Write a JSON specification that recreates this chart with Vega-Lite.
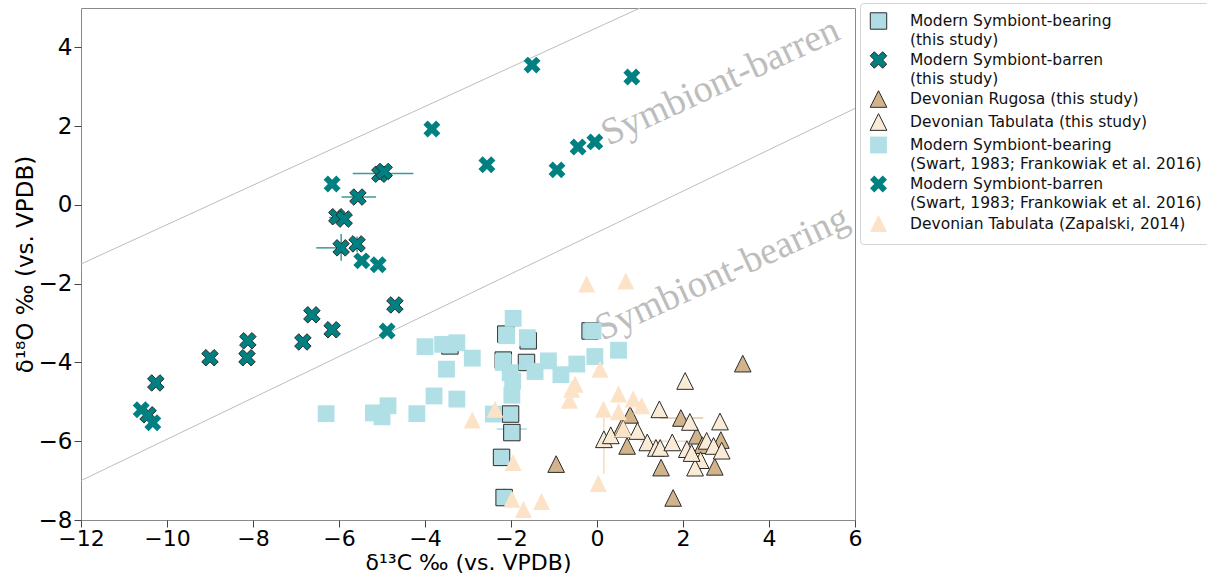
{
  "$schema": "https://vega.github.io/schema/vega-lite/v6.json",
  "width": 774,
  "height": 512,
  "autosize": {"type": "none"},
  "padding": {"left": 81, "top": 8, "right": 352, "bottom": 57},
  "background": "white",
  "config": {
    "view": {"stroke": "#8a8a8a", "strokeWidth": 1},
    "axis": {
      "grid": false,
      "domain": false,
      "ticks": true,
      "tickSize": 7,
      "tickColor": "#444",
      "labelFlush": false,
      "labelFont": "DejaVu Sans",
      "labelFontSize": 23,
      "labelColor": "#000",
      "titleFont": "DejaVu Sans",
      "titleFontSize": 23,
      "titleFontWeight": "normal",
      "titleColor": "#000"
    },
    "legend": {
      "labelFont": "DejaVu Sans",
      "labelFontSize": 15.5,
      "labelColor": "#111",
      "labelLimit": 400
    }
  },
  "datasets": {
    "points": [
      {"x": -3.42, "y": -3.58, "series": "Modern Symbiont-bearing|\u00a0(this study)"},
      {"x": -2.12, "y": -3.28, "series": "Modern Symbiont-bearing|\u00a0(this study)"},
      {"x": -1.6, "y": -3.45, "series": "Modern Symbiont-bearing|\u00a0(this study)"},
      {"x": -2.18, "y": -3.94, "series": "Modern Symbiont-bearing|\u00a0(this study)"},
      {"x": -1.64, "y": -4.0, "series": "Modern Symbiont-bearing|\u00a0(this study)"},
      {"x": -0.16, "y": -3.2, "series": "Modern Symbiont-bearing|\u00a0(this study)"},
      {"x": -2.01, "y": -5.31, "series": "Modern Symbiont-bearing|\u00a0(this study)"},
      {"x": -1.98, "y": -5.78, "series": "Modern Symbiont-bearing|\u00a0(this study)"},
      {"x": -2.22, "y": -6.41, "series": "Modern Symbiont-bearing|\u00a0(this study)"},
      {"x": -2.16, "y": -7.43, "series": "Modern Symbiont-bearing|\u00a0(this study)"},

      {"x": -5.05, "y": 0.78, "series": "Modern Symbiont-barren|\u00a0(this study)"},
      {"x": -4.95, "y": 0.85, "series": "Modern Symbiont-barren|\u00a0(this study)"},
      {"x": -5.56, "y": 0.2, "series": "Modern Symbiont-barren|\u00a0(this study)"},
      {"x": -6.05, "y": -0.3, "series": "Modern Symbiont-barren|\u00a0(this study)"},
      {"x": -5.88, "y": -0.36, "series": "Modern Symbiont-barren|\u00a0(this study)"},
      {"x": -5.95, "y": -1.09, "series": "Modern Symbiont-barren|\u00a0(this study)"},
      {"x": -5.58, "y": -0.99, "series": "Modern Symbiont-barren|\u00a0(this study)"},
      {"x": -4.7, "y": -2.54, "series": "Modern Symbiont-barren|\u00a0(this study)"},
      {"x": -6.63, "y": -2.79, "series": "Modern Symbiont-barren|\u00a0(this study)"},
      {"x": -6.16, "y": -3.17, "series": "Modern Symbiont-barren|\u00a0(this study)"},
      {"x": -6.84, "y": -3.48, "series": "Modern Symbiont-barren|\u00a0(this study)"},
      {"x": -8.12, "y": -3.45, "series": "Modern Symbiont-barren|\u00a0(this study)"},
      {"x": -8.14, "y": -3.88, "series": "Modern Symbiont-barren|\u00a0(this study)"},
      {"x": -9.0, "y": -3.88, "series": "Modern Symbiont-barren|\u00a0(this study)"},
      {"x": -10.26, "y": -4.52, "series": "Modern Symbiont-barren|\u00a0(this study)"},
      {"x": -10.44, "y": -5.33, "series": "Modern Symbiont-barren|\u00a0(this study)"},

      {"x": 3.39, "y": -4.03, "series": "Devonian Rugosa (this study)"},
      {"x": 0.77, "y": -5.33, "series": "Devonian Rugosa (this study)"},
      {"x": 1.95, "y": -5.41, "series": "Devonian Rugosa (this study)"},
      {"x": 0.7, "y": -6.12, "series": "Devonian Rugosa (this study)"},
      {"x": 1.49, "y": -6.67, "series": "Devonian Rugosa (this study)"},
      {"x": 2.32, "y": -5.86, "series": "Devonian Rugosa (this study)"},
      {"x": 2.74, "y": -6.65, "series": "Devonian Rugosa (this study)"},
      {"x": 1.77, "y": -7.44, "series": "Devonian Rugosa (this study)"},
      {"x": 2.88, "y": -5.97, "series": "Devonian Rugosa (this study)"},
      {"x": -0.95, "y": -6.58, "series": "Devonian Rugosa (this study)"},
      {"x": 0.57, "y": -5.65, "series": "Devonian Rugosa (this study)"},
      {"x": 2.45, "y": -6.1, "series": "Devonian Rugosa (this study)"},

      {"x": 2.05, "y": -4.47, "series": "Devonian Tabulata (this study)"},
      {"x": 1.45, "y": -5.19, "series": "Devonian Tabulata (this study)"},
      {"x": 2.16, "y": -5.51, "series": "Devonian Tabulata (this study)"},
      {"x": 2.86, "y": -5.5, "series": "Devonian Tabulata (this study)"},
      {"x": 0.16, "y": -5.95, "series": "Devonian Tabulata (this study)"},
      {"x": 0.32, "y": -5.85, "series": "Devonian Tabulata (this study)"},
      {"x": 0.61, "y": -5.69, "series": "Devonian Tabulata (this study)"},
      {"x": 0.94, "y": -5.74, "series": "Devonian Tabulata (this study)"},
      {"x": 1.17, "y": -6.03, "series": "Devonian Tabulata (this study)"},
      {"x": 1.37, "y": -6.17, "series": "Devonian Tabulata (this study)"},
      {"x": 1.47, "y": -6.17, "series": "Devonian Tabulata (this study)"},
      {"x": 1.75, "y": -6.03, "series": "Devonian Tabulata (this study)"},
      {"x": 2.09, "y": -6.2, "series": "Devonian Tabulata (this study)"},
      {"x": 2.55, "y": -5.99, "series": "Devonian Tabulata (this study)"},
      {"x": 2.71, "y": -6.12, "series": "Devonian Tabulata (this study)"},
      {"x": 2.9, "y": -6.24, "series": "Devonian Tabulata (this study)"},
      {"x": 2.41, "y": -6.48, "series": "Devonian Tabulata (this study)"},
      {"x": 2.28, "y": -6.67, "series": "Devonian Tabulata (this study)"},
      {"x": 2.2, "y": -6.3, "series": "Devonian Tabulata (this study)"},

      {"x": -6.3, "y": -5.3, "series": "Modern Symbiont-bearing|(Swart, 1983; Frankowiak et al. 2016)"},
      {"x": -5.2, "y": -5.28, "series": "Modern Symbiont-bearing|(Swart, 1983; Frankowiak et al. 2016)"},
      {"x": -4.86, "y": -5.1, "series": "Modern Symbiont-bearing|(Swart, 1983; Frankowiak et al. 2016)"},
      {"x": -5.0, "y": -5.38, "series": "Modern Symbiont-bearing|(Swart, 1983; Frankowiak et al. 2016)"},
      {"x": -4.19, "y": -5.3, "series": "Modern Symbiont-bearing|(Swart, 1983; Frankowiak et al. 2016)"},
      {"x": -3.79, "y": -4.85, "series": "Modern Symbiont-bearing|(Swart, 1983; Frankowiak et al. 2016)"},
      {"x": -4.0, "y": -3.6, "series": "Modern Symbiont-bearing|(Swart, 1983; Frankowiak et al. 2016)"},
      {"x": -3.59, "y": -3.54, "series": "Modern Symbiont-bearing|(Swart, 1983; Frankowiak et al. 2016)"},
      {"x": -3.26, "y": -3.5, "series": "Modern Symbiont-bearing|(Swart, 1983; Frankowiak et al. 2016)"},
      {"x": -3.5, "y": -4.17, "series": "Modern Symbiont-bearing|(Swart, 1983; Frankowiak et al. 2016)"},
      {"x": -3.26, "y": -4.93, "series": "Modern Symbiont-bearing|(Swart, 1983; Frankowiak et al. 2016)"},
      {"x": -2.9, "y": -3.89, "series": "Modern Symbiont-bearing|(Swart, 1983; Frankowiak et al. 2016)"},
      {"x": -1.95, "y": -2.88, "series": "Modern Symbiont-bearing|(Swart, 1983; Frankowiak et al. 2016)"},
      {"x": -2.1, "y": -3.32, "series": "Modern Symbiont-bearing|(Swart, 1983; Frankowiak et al. 2016)"},
      {"x": -1.62, "y": -3.37, "series": "Modern Symbiont-bearing|(Swart, 1983; Frankowiak et al. 2016)"},
      {"x": -2.18, "y": -4.0, "series": "Modern Symbiont-bearing|(Swart, 1983; Frankowiak et al. 2016)"},
      {"x": -2.02, "y": -4.26, "series": "Modern Symbiont-bearing|(Swart, 1983; Frankowiak et al. 2016)"},
      {"x": -1.96, "y": -4.47, "series": "Modern Symbiont-bearing|(Swart, 1983; Frankowiak et al. 2016)"},
      {"x": -1.98, "y": -4.83, "series": "Modern Symbiont-bearing|(Swart, 1983; Frankowiak et al. 2016)"},
      {"x": -1.44, "y": -4.23, "series": "Modern Symbiont-bearing|(Swart, 1983; Frankowiak et al. 2016)"},
      {"x": -1.13, "y": -3.96, "series": "Modern Symbiont-bearing|(Swart, 1983; Frankowiak et al. 2016)"},
      {"x": -0.84, "y": -4.31, "series": "Modern Symbiont-bearing|(Swart, 1983; Frankowiak et al. 2016)"},
      {"x": -0.47, "y": -4.04, "series": "Modern Symbiont-bearing|(Swart, 1983; Frankowiak et al. 2016)"},
      {"x": -0.05, "y": -3.85, "series": "Modern Symbiont-bearing|(Swart, 1983; Frankowiak et al. 2016)"},
      {"x": 0.5, "y": -3.69, "series": "Modern Symbiont-bearing|(Swart, 1983; Frankowiak et al. 2016)"},
      {"x": -0.09, "y": -3.2, "series": "Modern Symbiont-bearing|(Swart, 1983; Frankowiak et al. 2016)"},
      {"x": -2.41, "y": -5.31, "series": "Modern Symbiont-bearing|(Swart, 1983; Frankowiak et al. 2016)"},

      {"x": -3.84, "y": 1.93, "series": "Modern Symbiont-barren|(Swart, 1983; Frankowiak et al. 2016)"},
      {"x": -6.16, "y": 0.53, "series": "Modern Symbiont-barren|(Swart, 1983; Frankowiak et al. 2016)"},
      {"x": -1.51, "y": 3.55, "series": "Modern Symbiont-barren|(Swart, 1983; Frankowiak et al. 2016)"},
      {"x": 0.81, "y": 3.25, "series": "Modern Symbiont-barren|(Swart, 1983; Frankowiak et al. 2016)"},
      {"x": -2.56, "y": 1.02, "series": "Modern Symbiont-barren|(Swart, 1983; Frankowiak et al. 2016)"},
      {"x": -0.93, "y": 0.89, "series": "Modern Symbiont-barren|(Swart, 1983; Frankowiak et al. 2016)"},
      {"x": -0.44, "y": 1.47, "series": "Modern Symbiont-barren|(Swart, 1983; Frankowiak et al. 2016)"},
      {"x": -0.05, "y": 1.6, "series": "Modern Symbiont-barren|(Swart, 1983; Frankowiak et al. 2016)"},
      {"x": -5.47, "y": -1.42, "series": "Modern Symbiont-barren|(Swart, 1983; Frankowiak et al. 2016)"},
      {"x": -5.09, "y": -1.52, "series": "Modern Symbiont-barren|(Swart, 1983; Frankowiak et al. 2016)"},
      {"x": -4.88, "y": -3.2, "series": "Modern Symbiont-barren|(Swart, 1983; Frankowiak et al. 2016)"},
      {"x": -10.6, "y": -5.2, "series": "Modern Symbiont-barren|(Swart, 1983; Frankowiak et al. 2016)"},
      {"x": -10.33, "y": -5.53, "series": "Modern Symbiont-barren|(Swart, 1983; Frankowiak et al. 2016)"},

      {"x": -0.24, "y": -2.01, "series": "Devonian Tabulata (Zapalski, 2014)"},
      {"x": 0.67, "y": -1.93, "series": "Devonian Tabulata (Zapalski, 2014)"},
      {"x": 0.07, "y": -4.17, "series": "Devonian Tabulata (Zapalski, 2014)"},
      {"x": -0.51, "y": -4.55, "series": "Devonian Tabulata (Zapalski, 2014)"},
      {"x": -0.59, "y": -4.68, "series": "Devonian Tabulata (Zapalski, 2014)"},
      {"x": -0.64, "y": -4.96, "series": "Devonian Tabulata (Zapalski, 2014)"},
      {"x": 0.5, "y": -4.8, "series": "Devonian Tabulata (Zapalski, 2014)"},
      {"x": 0.84, "y": -4.93, "series": "Devonian Tabulata (Zapalski, 2014)"},
      {"x": 1.04, "y": -5.1, "series": "Devonian Tabulata (Zapalski, 2014)"},
      {"x": 0.15, "y": -5.19, "series": "Devonian Tabulata (Zapalski, 2014)"},
      {"x": 0.5, "y": -5.25, "series": "Devonian Tabulata (Zapalski, 2014)"},
      {"x": 0.61, "y": -5.69, "series": "Devonian Tabulata (Zapalski, 2014)"},
      {"x": -2.37, "y": -5.19, "series": "Devonian Tabulata (Zapalski, 2014)"},
      {"x": -2.9, "y": -5.46, "series": "Devonian Tabulata (Zapalski, 2014)"},
      {"x": -1.95, "y": -6.54, "series": "Devonian Tabulata (Zapalski, 2014)"},
      {"x": 0.03, "y": -7.07, "series": "Devonian Tabulata (Zapalski, 2014)"},
      {"x": -1.98, "y": -7.47, "series": "Devonian Tabulata (Zapalski, 2014)"},
      {"x": -1.71, "y": -7.73, "series": "Devonian Tabulata (Zapalski, 2014)"},
      {"x": -1.29, "y": -7.53, "series": "Devonian Tabulata (Zapalski, 2014)"}
    ],
    "hbars": [
      {"x": -5.68, "x2": -4.27, "y": 0.8, "group": "barren"},
      {"x": -5.94, "x2": -5.14, "y": 0.2, "group": "barren"},
      {"x": -6.53, "x2": -5.95, "y": -1.09, "group": "barren"},
      {"x": -6.23, "x2": -5.9, "y": -0.32, "group": "barren"},
      {"x": 1.47, "x2": 2.47, "y": -5.41, "group": "rugosa"},
      {"x": 1.0, "x2": 2.2, "y": -6.0, "group": "tabulata"},
      {"x": -2.33, "x2": -1.63, "y": -5.69, "group": "bearing"}
    ],
    "vbars": [
      {"x": -5.95, "y": -0.74, "y2": -1.42, "group": "barren"},
      {"x": -5.0, "y": 0.6, "y2": 1.0, "group": "barren"},
      {"x": -5.58, "y": -0.8, "y2": -1.2, "group": "barren"},
      {"x": 0.16, "y": -5.4, "y2": -6.83, "group": "tabulata"},
      {"x": -2.16, "y": -7.2, "y2": -7.6, "group": "bearing"}
    ],
    "guides": [
      {"x": -12, "y": -1.5, "line": "upper"},
      {"x": 1, "y": 5, "line": "upper"},
      {"x": -12, "y": -7, "line": "lower"},
      {"x": 6, "y": 2.45, "line": "lower"}
    ],
    "labels": [
      {"x": 2.98, "y": 2.86, "text": "Symbiont-barren"},
      {"x": 3.02, "y": -2.0, "text": "Symbiont-bearing"}
    ]
  },
  "layer": [
    {
      "mark": {"type": "rule", "color": "#9a9a9a", "strokeWidth": 1},
      "encoding": {
        "x": {"datum": 0, "type": "quantitative", "scale": {"domain": [-12, 6], "nice": false, "zero": false}}
      }
    },
    {
      "mark": {"type": "rule", "color": "#9a9a9a", "strokeWidth": 1},
      "encoding": {
        "y": {"datum": 0, "type": "quantitative", "scale": {"domain": [-8, 5], "nice": false, "zero": false}}
      }
    },
    {
      "data": {"name": "guides"},
      "mark": {"type": "line", "color": "#bdbdbd", "strokeWidth": 1, "clip": true},
      "encoding": {
        "x": {"field": "x", "type": "quantitative", "scale": {"domain": [-12, 6], "nice": false, "zero": false}},
        "y": {"field": "y", "type": "quantitative", "scale": {"domain": [-8, 5], "nice": false, "zero": false}},
        "detail": {"field": "line"}
      }
    },
    {
      "data": {"name": "labels"},
      "mark": {"type": "text", "font": "Liberation Serif", "fontSize": 38, "color": "#bdbdbd", "angle": -24.7, "align": "center", "baseline": "alphabetic", "clip": true},
      "encoding": {
        "x": {"field": "x", "type": "quantitative"},
        "y": {"field": "y", "type": "quantitative"},
        "text": {"field": "text"}
      }
    },
    {
      "data": {"name": "hbars"},
      "mark": {"type": "rule", "strokeWidth": 1.5},
      "encoding": {
        "x": {"field": "x", "type": "quantitative"},
        "x2": {"field": "x2"},
        "y": {"field": "y", "type": "quantitative"},
        "color": {"field": "group", "type": "nominal", "legend": null,
          "scale": {"domain": ["barren", "bearing", "rugosa", "tabulata"], "range": ["#3a9a9a", "#a8dbe2", "#e0c8a6", "#f6dcc0"]}}
      }
    },
    {
      "data": {"name": "vbars"},
      "mark": {"type": "rule", "strokeWidth": 1.5},
      "encoding": {
        "x": {"field": "x", "type": "quantitative"},
        "y": {"field": "y", "type": "quantitative"},
        "y2": {"field": "y2"},
        "color": {"field": "group", "type": "nominal", "legend": null}
      }
    },
    {
      "data": {"name": "points"},
      "mark": {"type": "point", "filled": true, "opacity": 1, "strokeWidth": 1},
      "encoding": {
        "x": {"field": "x", "type": "quantitative", "title": "δ¹³C ‰ (vs. VPDB)",
          "scale": {"domain": [-12, 6], "nice": false, "zero": false},
          "axis": {"values": [-12, -10, -8, -6, -4, -2, 0, 2, 4, 6], "labelPadding": 1, "titlePadding": 3, "labelFlush": false, "labelFontSize": 22, "titleFontSize": 22,
            "labelExpr": "replace(format(datum.value, 'd'), '-', '−')"}},
        "y": {"field": "y", "type": "quantitative", "title": "δ¹⁸O ‰ (vs. VPDB)",
          "scale": {"domain": [-8, 5], "nice": false, "zero": false},
          "axis": {"values": [-8, -6, -4, -2, 0, 2, 4], "labelPadding": 2, "titlePadding": 1, "labelFlush": false,
            "labelExpr": "replace(format(datum.value, 'd'), '-', '−')"}},
        "fill": {"field": "series", "type": "nominal", "title": null,
          "scale": {
            "domain": ["Modern Symbiont-bearing|\u00a0(this study)", "Modern Symbiont-barren|\u00a0(this study)", "Devonian Rugosa (this study)", "Devonian Tabulata (this study)", "Modern Symbiont-bearing|(Swart, 1983; Frankowiak et al. 2016)", "Modern Symbiont-barren|(Swart, 1983; Frankowiak et al. 2016)", "Devonian Tabulata (Zapalski, 2014)"],
            "range": ["#b0dde3", "#008080", "#d2b48c", "#faebd7", "#b0e0e6", "#008080", "#fce3c8"]},
          "legend": {"orient": "none", "legendX": 779, "legendY": -5, "labelExpr": "split(datum.label, '|')",
            "padding": 9, "strokeColor": "#d4d4d4", "fillColor": "white", "cornerRadius": 4,
            "rowPadding": 1, "labelOffset": 22, "symbolStrokeWidth": 1, "symbolOpacity": 1, "labelFontSize": 15.5, "labelLimit": 400,
            "encode": {"labels": {"update": {"lineHeight": {"value": 18.5}}}}}},
        "shape": {"field": "series", "type": "nominal", "title": null,
          "scale": {
            "domain": ["Modern Symbiont-bearing|\u00a0(this study)", "Modern Symbiont-barren|\u00a0(this study)", "Devonian Rugosa (this study)", "Devonian Tabulata (this study)", "Modern Symbiont-bearing|(Swart, 1983; Frankowiak et al. 2016)", "Modern Symbiont-barren|(Swart, 1983; Frankowiak et al. 2016)", "Devonian Tabulata (Zapalski, 2014)"],
            "range": ["square", "M0,0.5L0.5,1L1,0.5L0.5,0L1,-0.5L0.5,-1L0,-0.5L-0.5,-1L-1,-0.5L-0.5,0L-1,0.5L-0.5,1Z", "M0,-1L1,1L-1,1Z", "M0,-1L1,1L-1,1Z", "square", "M0,0.5L0.5,1L1,0.5L0.5,0L1,-0.5L0.5,-1L0,-0.5L-0.5,-1L-1,-0.5L-0.5,0L-1,0.5L-0.5,1Z", "M0,-1L1,1L-1,1Z"]},
          "legend": {"orient": "none", "legendX": 779, "legendY": -5, "labelExpr": "split(datum.label, '|')",
            "padding": 9, "strokeColor": "#d4d4d4", "fillColor": "white", "cornerRadius": 4,
            "rowPadding": 1, "labelOffset": 22, "symbolStrokeWidth": 1, "symbolOpacity": 1, "labelFontSize": 15.5, "labelLimit": 400,
            "encode": {"labels": {"update": {"lineHeight": {"value": 18.5}}}}}},
        "stroke": {"field": "series", "type": "nominal", "title": null,
          "scale": {
            "domain": ["Modern Symbiont-bearing|\u00a0(this study)", "Modern Symbiont-barren|\u00a0(this study)", "Devonian Rugosa (this study)", "Devonian Tabulata (this study)", "Modern Symbiont-bearing|(Swart, 1983; Frankowiak et al. 2016)", "Modern Symbiont-barren|(Swart, 1983; Frankowiak et al. 2016)", "Devonian Tabulata (Zapalski, 2014)"],
            "range": ["#2b2b2b", "#2b2b2b", "#2b2b2b", "#2b2b2b", "transparent", "transparent", "transparent"]},
          "legend": {"orient": "none", "legendX": 779, "legendY": -5, "labelExpr": "split(datum.label, '|')",
            "padding": 9, "strokeColor": "#d4d4d4", "fillColor": "white", "cornerRadius": 4,
            "rowPadding": 1, "labelOffset": 22, "symbolStrokeWidth": 1, "symbolOpacity": 1, "labelFontSize": 15.5, "labelLimit": 400,
            "encode": {"labels": {"update": {"lineHeight": {"value": 18.5}}}}}},
        "size": {"field": "series", "type": "nominal", "title": null,
          "scale": {
            "domain": ["Modern Symbiont-bearing|\u00a0(this study)", "Modern Symbiont-barren|\u00a0(this study)", "Devonian Rugosa (this study)", "Devonian Tabulata (this study)", "Modern Symbiont-bearing|(Swart, 1983; Frankowiak et al. 2016)", "Modern Symbiont-barren|(Swart, 1983; Frankowiak et al. 2016)", "Devonian Tabulata (Zapalski, 2014)"],
            "range": [270, 290, 240, 240, 270, 290, 160]},
          "legend": {"orient": "none", "legendX": 779, "legendY": -5, "labelExpr": "split(datum.label, '|')",
            "padding": 9, "strokeColor": "#d4d4d4", "fillColor": "white", "cornerRadius": 4,
            "rowPadding": 1, "labelOffset": 22, "symbolStrokeWidth": 1, "symbolOpacity": 1, "labelFontSize": 15.5, "labelLimit": 400,
            "encode": {"labels": {"update": {"lineHeight": {"value": 18.5}}}}}}
      }
    }
  ]
}
